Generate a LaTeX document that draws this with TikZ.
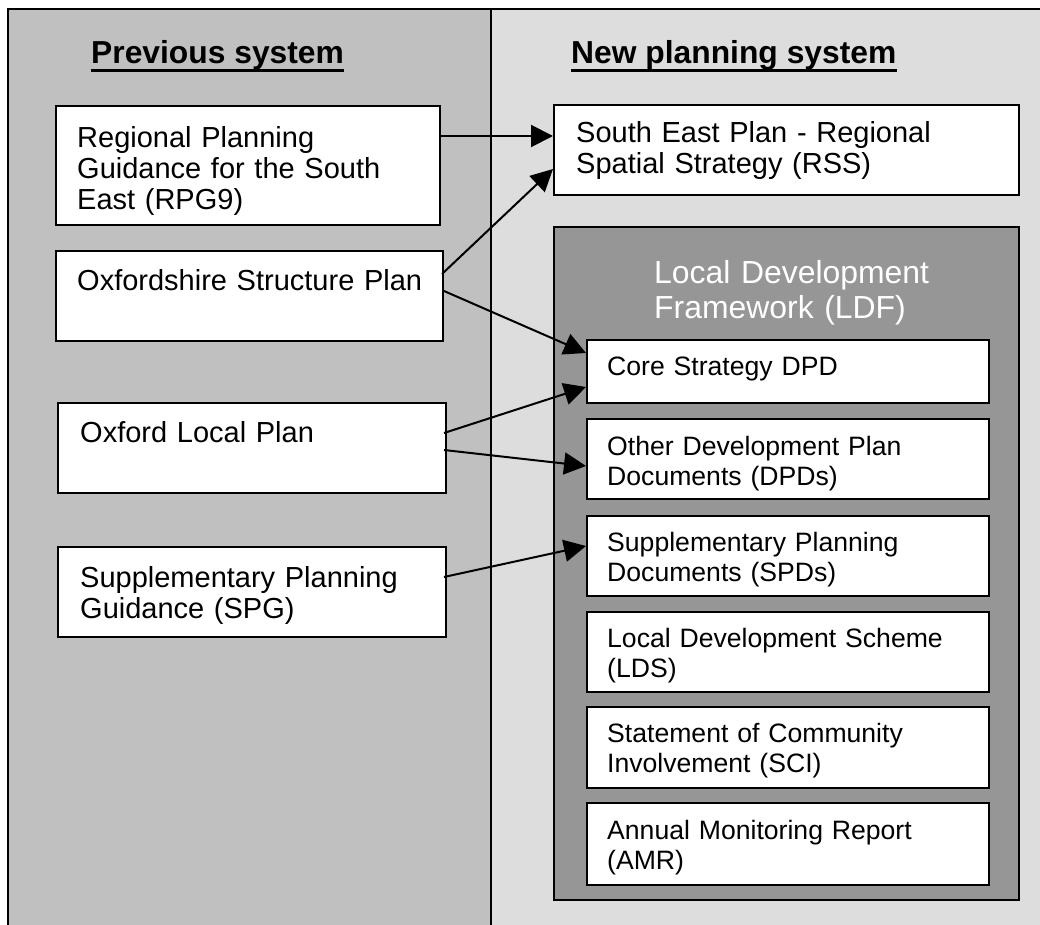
\documentclass[tikz,border=0pt]{standalone}
\usepackage{fontspec}
\setmainfont{Liberation Sans}
\usetikzlibrary{arrows.meta,calc,fit}
\definecolor{prevgray}{HTML}{C0C0C0}
\definecolor{newgray}{HTML}{DDDDDD}
\definecolor{ldfgray}{HTML}{969696}
\begin{document}
\begin{tikzpicture}[x=1pt,y=-1pt,
  box/.style={draw, fill=white, line width=2pt, inner sep=0pt, rectangle},
  bodytxt/.style={anchor=base west, inner sep=0pt, align=left, text width=420pt,
    font=\fontsize{29}{31}\selectfont},
  innertxt/.style={anchor=base west, inner sep=0pt, align=left, text width=370pt,
    font=\fontsize{26.6}{30.5}\selectfont},
  titletxt/.style={anchor=base west, inner sep=0pt, font=\fontsize{31.8}{36}\selectfont\bfseries},
  ldftxt/.style={anchor=base west, inner sep=0pt, align=left, text width=340pt, text=white,
    font=\fontsize{31.9}{35}\selectfont},
  arr/.style={line width=2pt, -{Triangle[length=22pt,width=22pt]}},
  uline/.style={line width=2.7pt}
]
\useasboundingbox (0,0) rectangle (1040,925);
\fill[white] (0,0) rectangle (1040,925);
% panels
\fill[prevgray] (8,9) rectangle (491,925);
\fill[newgray] (491,9) rectangle (1040,925);
\draw[line width=2pt] (8,925) -- (8,9) -- (1040,9);
\draw[line width=2pt] (491,9) -- (491,925);

% titles
\node[titletxt] (ptitle) at (91,64) {Previous system};
\node[titletxt] (ntitle) at (571,64) {New planning system};
\draw[uline] ([yshift=-6.5pt]ptitle.base west) -- ([yshift=-6.5pt]ptitle.base east);
\draw[uline] ([yshift=-6.5pt]ntitle.base west) -- ([yshift=-6.5pt]ntitle.base east);

% left boxes
\node[box, fit={(56,106) (440,225)}] (rpg) {};
\node[box, fit={(56,251) (443,341)}] (osp) {};
\node[box, fit={(58,403) (446,493)}] (olp) {};
\node[box, fit={(58,547) (446,637)}] (spg) {};
\node[bodytxt] (trpg) at (77,148) {Regional Planning\\Guidance for the South\\East (RPG9)};
\node[bodytxt] (tosp) at (77,290) {Oxfordshire Structure Plan};
\node[bodytxt] (tolp) at (80,442) {Oxford Local Plan};
\node[bodytxt] (tspg) at (80,587) {Supplementary Planning\\Guidance (SPG)};

% right boxes
\node[box, fit={(554,105) (1019,195)}] (se) {};
\node[bodytxt] (tse) at (576,143) {South East Plan - Regional\\Spatial Strategy (RSS)};
\node[box, fill=ldfgray, fit={(554,227) (1019,900)}] (ldf) {};
\node[ldftxt] (tldf) at (654,283) {Local Development\\Framework (LDF)};

\node[box, fit={(587,340) (989,403)}] (core) {};
\node[box, fit={(587,419) (989,499)}] (odpd) {};
\node[box, fit={(587,516) (989,596)}] (spd) {};
\node[box, fit={(587,612) (989,692)}] (lds) {};
\node[box, fit={(587,707) (989,788)}] (sci) {};
\node[box, fit={(587,803) (989,885)}] (amr) {};
\node[innertxt] (tcore) at (607,375) {Core Strategy DPD};
\node[innertxt] (todpd) at (607,455) {Other Development Plan\\Documents (DPDs)};
\node[innertxt] (tspd) at (607,551) {Supplementary Planning\\Documents (SPDs)};
\node[innertxt] (tlds) at (607,647) {Local Development Scheme\\(LDS)};
\node[innertxt] (tsci) at (607,742) {Statement of Community\\Involvement (SCI)};
\node[innertxt] (tamr) at (607,839) {Annual Monitoring Report\\(AMR)};

% connectors
\draw[arr] ($(rpg.north east)+(0,31)$) -- ($(se.north west)+(0,32)$);
\draw[arr] ($(osp.north east)+(-2,24)$) -- ($(se.north west)+(0,65)$);
\draw[arr] ($(osp.north east)+(0,41)$) -- ($(core.north west)+(0,14)$);
\draw[arr] ($(olp.north east)+(-3,31)$) -- ($(core.north west)+(0,48)$);
\draw[arr] ($(olp.north east)+(-3,48)$) -- ($(odpd.north west)+(0,48)$);
\draw[arr] ($(spg.north east)+(-3,31)$) -- ($(spd.north west)+(0,31)$);
\end{tikzpicture}
\end{document}
